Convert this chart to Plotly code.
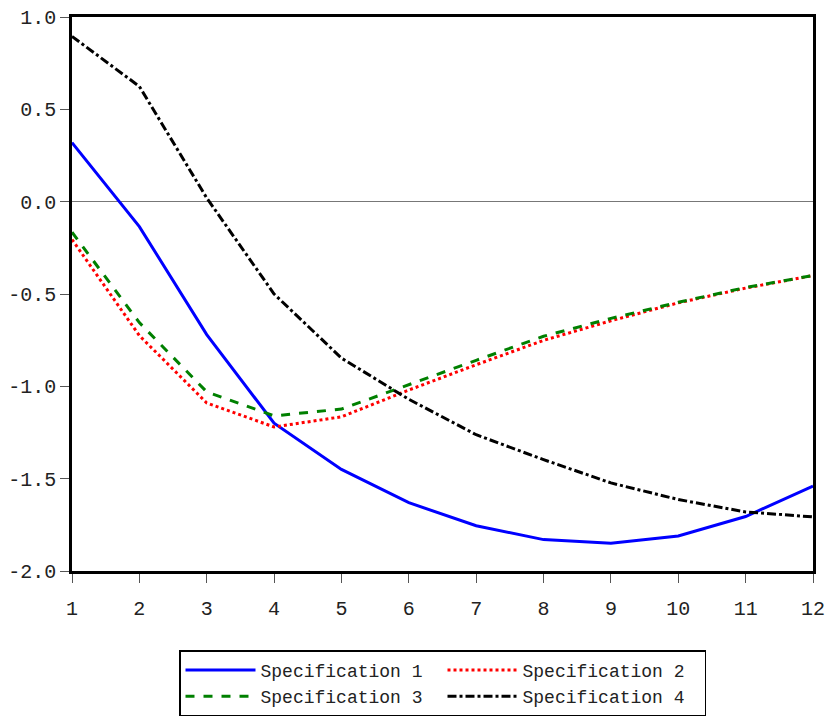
import plotly.graph_objects as go

horizon = [1, 2, 3, 4, 5, 6, 7, 8, 9, 10, 11, 12]
spec1 = [0.32, -0.135, -0.72, -1.20, -1.45, -1.63, -1.755, -1.83, -1.85, -1.81, -1.705, -1.54]
spec2 = [-0.205, -0.725, -1.09, -1.22, -1.165, -1.02, -0.883, -0.751, -0.645, -0.548, -0.468, -0.40]
spec3 = [-0.165, -0.655, -1.03, -1.16, -1.123, -0.99, -0.859, -0.729, -0.632, -0.545, -0.465, -0.40]
spec4 = [0.895, 0.624, 0.02, -0.50, -0.847, -1.07, -1.262, -1.397, -1.523, -1.613, -1.68, -1.707]
names = ["Specification 1", "Specification 2", "Specification 3", "Specification 4"]

fig = go.Figure()
styles = [("blue", "solid"), ("red", "dot"), ("green", "dash"), ("black", "dashdot")]
series = [spec1, spec2, spec3, spec4]
for i in range(4):
    c, d = styles[i]
    fig.add_trace(go.Scatter(x=horizon, y=series[i], mode="lines", name=names[i],
                             line=dict(color=c, dash=d, width=3)))

font = "Liberation Mono"
fig.update_layout(
    width=831, height=718,
    margin=dict(l=72, r=18, t=17, b=147, autoexpand=False),
    paper_bgcolor="white", plot_bgcolor="white",
    font=dict(family=font, size=20, color="#222"),
    showlegend=True,
    legend=dict(orientation="h", x=0.5, xanchor="center", y=-0.143, yanchor="top",
                bordercolor="black", borderwidth=1.5, bgcolor="white",
                font=dict(family=font, size=18, color="#222"),
                itemwidth=70,
                entrywidth=177, entrywidthmode="pixels", traceorder="normal",
                tracegroupgap=0),
    xaxis=dict(range=[1, 12], tickvals=horizon, ticks="outside", ticklen=9,
               tickwidth=1, tickcolor="#555", showline=True, linecolor="black",
               linewidth=2.5, mirror=True, showgrid=False, zeroline=False,
               automargin=False, ticklabelstandoff=8,
               tickfont=dict(family=font, size=20)),
    yaxis=dict(range=[-2, 1], tickvals=[1, 0.5, 0, -0.5, -1, -1.5, -2],
               ticktext=["1.0", "0.5", "0.0", "-0.5", "-1.0", "-1.5", "-2.0"],
               ticks="outside", ticklen=9, tickwidth=1, tickcolor="#555",
               showline=True, linecolor="black", linewidth=2.5, mirror=True,
               showgrid=False, zeroline=True, zerolinecolor="#777", zerolinewidth=1,
               automargin=False,
               tickfont=dict(family=font, size=20)),
)

fig.write_html("out.html")
